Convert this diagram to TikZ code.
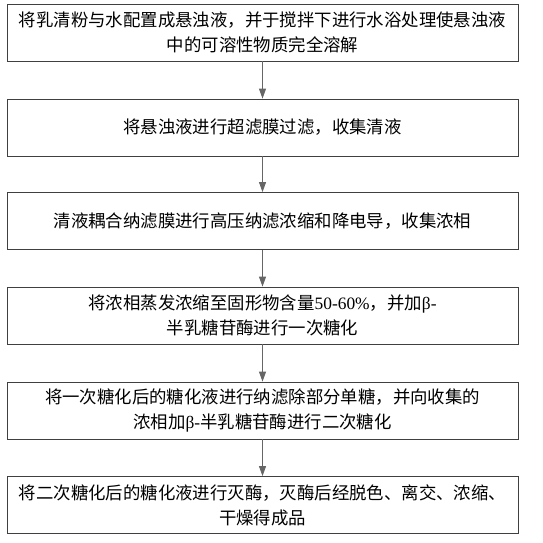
\documentclass[tikz,border=0pt]{standalone}
\usepackage{fontspec}
\setmainfont{Noto Sans CJK SC}
\newfontfamily\lat{Liberation Serif}
\usetikzlibrary{arrows.meta}
\tikzset{>=latex}

\begin{document}
\begin{tikzpicture}[x=1pt,y=1pt,
		procbox/.style = {draw=black!75, line width=0.8pt,
			minimum width=511pt, minimum height=57pt,
			align=center, inner sep=1pt,
			font=\fontsize{17.4}{25}\selectfont
		},
		flow/.style = {->, >={Triangle[length=10pt,width=7pt]},
			draw=black!60, line width=0.9pt
		},]
		\useasboundingbox (0,0) rectangle (543,-543);
		\node[procbox] (s1) at (262.5,-32.5) {将乳清粉与水配置成悬浊液，并于搅拌下进行水浴处理使悬浊液\\中的可溶性物质完全溶解};
		\node[procbox] (s2) at (262.5,-127.5) {将悬浊液进行超滤膜过滤，收集清液};
		\node[procbox] (s3) at (262.5,-221) {清液耦合纳滤膜进行高压纳滤浓缩和降电导，收集浓相};
		\node[procbox] (s4) at (262.5,-315.5) {将浓相蒸发浓缩至固形物含量{\lat 50-60\%}，并加{\lat β-}\\半乳糖苷酶进行一次糖化};
		\node[procbox] (s5) at (262.5,-410.5) {将一次糖化后的糖化液进行纳滤除部分单糖，并向收集的\\浓相加{\lat β-}半乳糖苷酶进行二次糖化};
		\node[procbox] (s6) at (262.5,-505) {将二次糖化后的糖化液进行灭酶，灭酶后经脱色、离交、浓缩、\\干燥得成品};
		\foreach \a/\b in {s1/s2, s2/s3, s3/s4, s4/s5, s5/s6}
		{
			\draw[flow] (\a) -- (\b);
		};
	\end{tikzpicture}
\end{document}
